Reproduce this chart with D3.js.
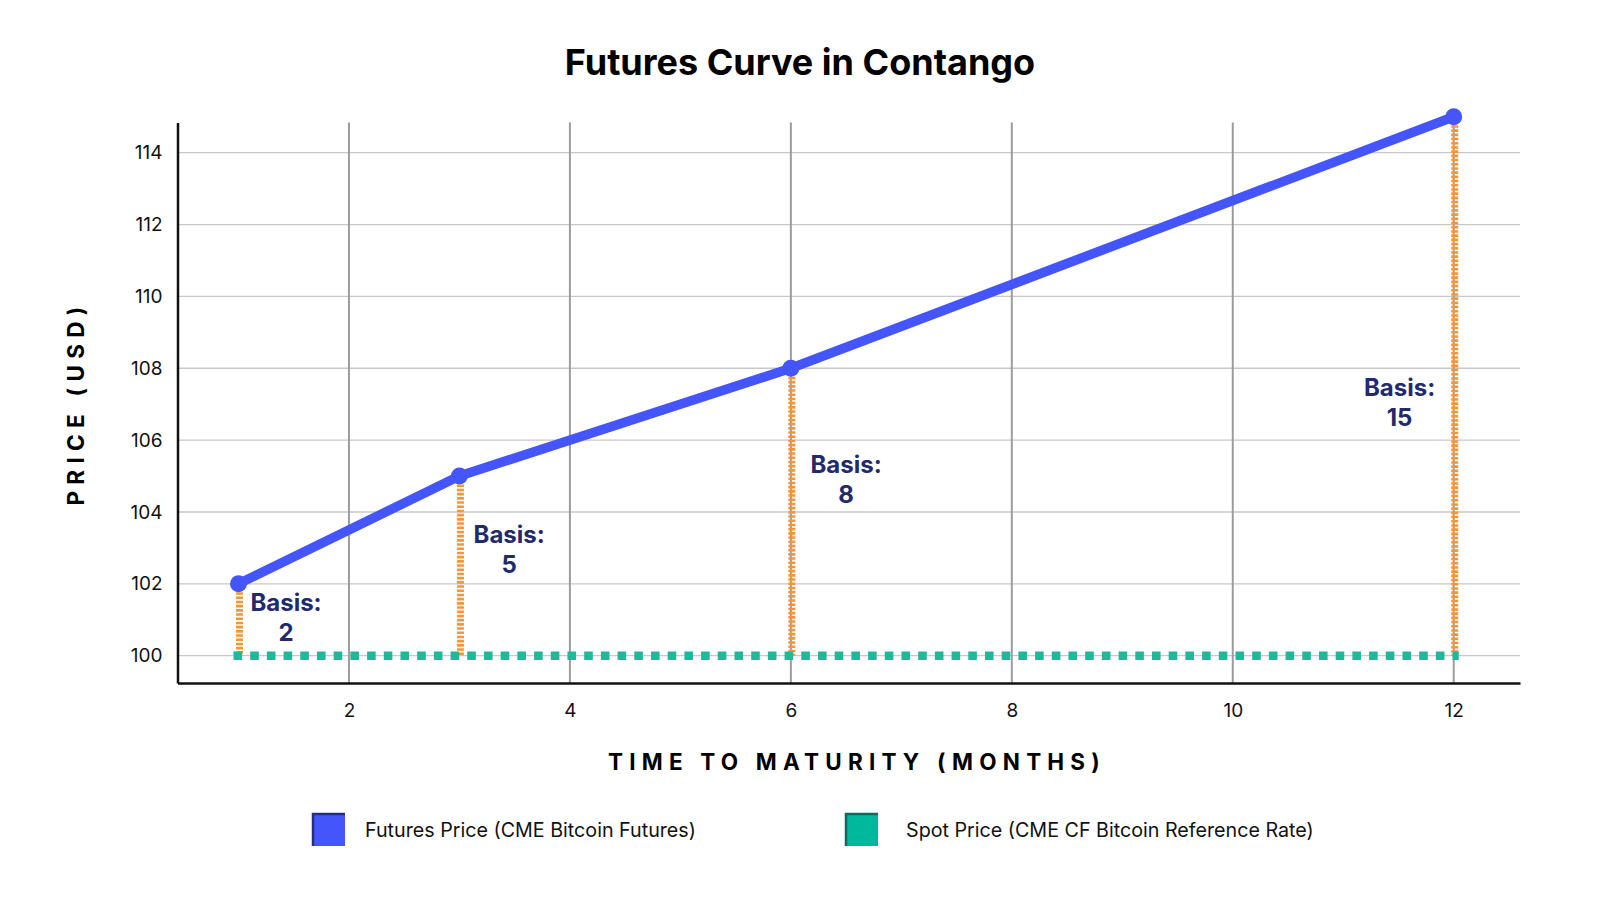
<!DOCTYPE html>
<html>
<head>
<meta charset="utf-8">
<script src="https://cdn.jsdelivr.net/npm/d3@7"></script>
<style>
  body { margin: 0; background: #fff; }
  text { font-family: Inter, "Noto Sans", sans-serif; }
</style>
</head>
<body>
<script>
// data
const months = [1, 3, 6, 12];
const futures = [102, 105, 108, 115];
const spot = 100;
const basis = [2, 5, 8, 15];
// where the "Basis" notes sit (baseline of first line), in chart units
const noteMonth = [1.43, 3.45, 6.5, 11.51];
const notePrice = [101.24, 103.14, 105.09, 107.23];
const xTicks = [2, 4, 6, 8, 10, 12];
const yTicks = [100, 102, 104, 106, 108, 110, 112, 114];
const legendLabels = ['Futures Price (CME Bitcoin Futures)', 'Spot Price (CME CF Bitcoin Reference Rate)'];

const w = 1600, h = 900;
const blue = '#4455fb', teal = '#1fb89b', orange = '#fb9434', navy = '#222a6c';

const svg = d3.select('body').append('svg')
  .attr('width', w)
  .attr('height', h);

const x = d3.scaleLinear().domain([0.448, 12.6]).range([177.5, 1520]);
const y = d3.scaleLinear().domain([99.24, 114.84]).range([683, 122.5]);

// gridlines
svg.append('g')
  .selectAll('line')
  .data(yTicks)
  .join('line')
    .attr('x1', x.range()[0]).attr('x2', x.range()[1])
    .attr('y1', d => y(d)).attr('y2', d => y(d))
    .attr('stroke', '#c8c8c8')
    .attr('stroke-width', 1.3);

svg.append('g')
  .selectAll('line')
  .data(xTicks)
  .join('line')
    .attr('x1', d => x(d)).attr('x2', d => x(d))
    .attr('y1', y.range()[0]).attr('y2', y.range()[1])
    .attr('stroke', '#9c9c9c')
    .attr('stroke-width', 2);

// axes, no tick marks
const xAxis = svg.append('g')
  .attr('transform', `translate(0,${y.range()[0]})`)
  .call(d3.axisBottom(x).tickValues(xTicks).tickSize(0).tickPadding(21));
const yAxis = svg.append('g')
  .attr('transform', `translate(${x.range()[0]},0)`)
  .call(d3.axisLeft(y).tickValues(yTicks).tickSize(0).tickPadding(15));

[xAxis, yAxis].forEach(g => {
  g.select('.domain').attr('stroke', '#111').attr('stroke-width', 2.5);
  g.selectAll('text')
    .attr('fill', '#111')
    .style('font-size', '19px')
    .style('font-family', 'Inter, sans-serif');
});

// basis lines: futures down to spot
svg.append('g')
  .selectAll('line')
  .data(months)
  .join('line')
    .attr('x1', d => x(d) + 1).attr('x2', d => x(d) + 1)
    .attr('y1', (d, i) => y(futures[i]))
    .attr('y2', y(spot))
    .attr('stroke', orange)
    .attr('stroke-width', 7)
    .attr('stroke-dasharray', '2.6,1.6');

// spot line
svg.append('line')
  .attr('x1', x(months[0]) - 5)
  .attr('x2', x(months[months.length - 1]) + 5)
  .attr('y1', y(spot)).attr('y2', y(spot))
  .attr('stroke', teal)
  .attr('stroke-width', 8.5)
  .attr('stroke-dasharray', '8.6,8.1');

// futures curve
const line = d3.line()
  .x((d, i) => x(months[i]))
  .y(d => y(d));

svg.append('path')
  .datum(futures)
  .attr('d', line)
  .attr('fill', 'none')
  .attr('stroke', blue)
  .attr('stroke-width', 9.5)
  .attr('stroke-linejoin', 'round');

svg.append('g')
  .selectAll('circle')
  .data(futures)
  .join('circle')
    .attr('cx', (d, i) => x(months[i]))
    .attr('cy', d => y(d))
    .attr('r', 8.5)
    .attr('fill', blue);

// basis notes
const notes = svg.append('g')
  .selectAll('text')
  .data(basis)
  .join('text')
    .attr('text-anchor', 'middle')
    .attr('fill', navy)
    .style('font-size', '24px')
    .style('font-weight', 700)
    .attr('x', (d, i) => x(noteMonth[i]))
    .attr('y', (d, i) => y(notePrice[i]));
notes.append('tspan').text('Basis:');
notes.append('tspan')
  .attr('x', (d, i) => x(noteMonth[i]))
  .attr('dy', 30)
  .text(d => d);

// titles
svg.append('text')
  .attr('x', 800).attr('y', 75)
  .attr('text-anchor', 'middle')
  .style('font-size', '36px')
  .style('font-weight', 700)
  .attr('fill', '#000')
  .text('Futures Curve in Contango');

svg.append('text')
  .attr('x', 857).attr('y', 770)
  .attr('text-anchor', 'middle')
  .style('font-size', '22.5px')
  .style('font-weight', 700)
  .style('letter-spacing', '6.2px')
  .attr('fill', '#000')
  .text('TIME TO MATURITY (MONTHS)');

svg.append('text')
  .attr('transform', 'translate(84,403) rotate(-90)')
  .attr('text-anchor', 'middle')
  .style('font-size', '22.5px')
  .style('font-weight', 700)
  .style('letter-spacing', '6.3px')
  .attr('fill', '#000')
  .text('PRICE (USD)');

// legend
const legend = svg.append('g')
  .selectAll('g')
  .data(legendLabels)
  .join('g')
    .attr('transform', (d, i) => `translate(${[312, 845][i]},813)`);

legend.append('rect')
  .attr('width', 33).attr('height', 33)
  .attr('fill', (d, i) => [blue, '#00b89c'][i]);

// darker top/left edge on the swatches
legend.append('path')
  .attr('d', 'M1,33V1H33')
  .attr('fill', 'none')
  .attr('stroke', (d, i) => ['#232c8a', '#0a6b5a'][i])
  .attr('stroke-width', 2.5);

legend.append('text')
  .attr('x', (d, i) => [53, 61][i])
  .attr('y', 24)
  .style('font-size', '19.7px')
  .attr('fill', '#111')
  .text(d => d);
</script>
</body>
</html>
